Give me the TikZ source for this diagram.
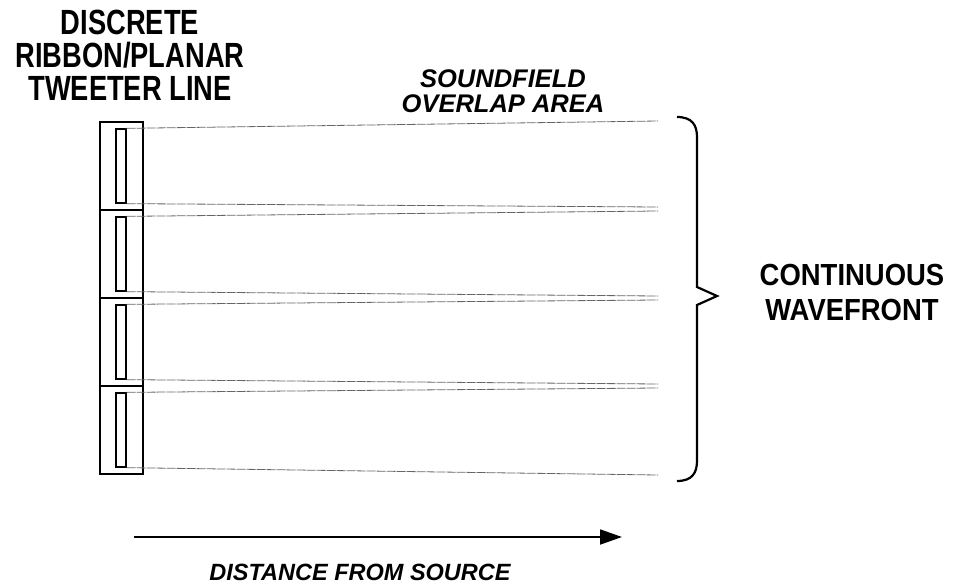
\documentclass[tikz,border=0pt]{standalone}
\usepackage{fontspec}
\setmainfont{Liberation Sans}
\newfontfamily\tweeterfont{Liberation Sans}[FakeStretch=0.78]
\newfontfamily\wavefont{Liberation Sans}[FakeStretch=0.9]
\usetikzlibrary{arrows.meta}

\begin{document}
\begin{tikzpicture}[x=1pt,y=-1pt,
    sect/.style={draw,line width=1.6pt,minimum width=43pt,minimum height=88pt,inner sep=0pt},
    ribbon/.style={draw,line width=1.3pt,minimum width=10pt,minimum height=74pt,inner sep=0pt},
    field/.style={black!60,line width=0.8pt,dash pattern=on 9pt off 1pt},
    title/.style={align=center,inner sep=0pt}]
      \useasboundingbox (0,0) rectangle (954,584) ;
      % tweeter line
      \node[sect] (S1) at (121.5,166) {} ;
      \node[sect] (S2) at (121.5,254) {} ;
      \node[sect] (S3) at (121.5,342) {} ;
      \node[sect] (S4) at (121.5,430) {} ;
      \node[ribbon] (T1) at (121,166) {} ;
      \node[ribbon] (T2) at (121,254) {} ;
      \node[ribbon] (T3) at (121,342) {} ;
      \node[ribbon] (T4) at (121,430) {} ;
      % soundfield edges
      \coordinate (E0) at (658,121) ;
      \coordinate (E1) at (658,207) ;
      \coordinate (E2) at (658,211) ;
      \coordinate (E3) at (658,296) ;
      \coordinate (E4) at (658,300) ;
      \coordinate (E5) at (658,384) ;
      \coordinate (E6) at (658,388) ;
      \coordinate (E7) at (658,475) ;
      \draw[field] (T1.north east) -- (E0) ;
      \draw[field] (T1.south east) -- (E1) ;
      \draw[field] (T2.north east) -- (E2) ;
      \draw[field] (T2.south east) -- (E3) ;
      \draw[field] (T3.north east) -- (E4) ;
      \draw[field] (T3.south east) -- (E5) ;
      \draw[field] (T4.north east) -- (E6) ;
      \draw[field] (T4.south east) -- (E7) ;
      % brace
      \draw[line width=2.2pt] (677,117) .. controls (692,117) and (697,125) .. (697,137) %
      -- (697,287) -- (717,296) -- (697,305) -- (697,461) %
      .. controls (697,473) and (692,481) .. (677,481) ;
      % distance arrow
      \coordinate (D0) at (134,537) ;
      \coordinate (D1) at (622,537) ;
      \draw[line width=1.8pt,-{Triangle[length=22pt,width=15pt]}] (D0) -- (D1) ;
      % labels
      \node[title,font=\tweeterfont\fontsize{35}{33}\selectfont\bfseries] (tweeter) %
      at (130,55) {DISCRETE\\RIBBON/PLANAR\\TWEETER LINE} ;
      \node[title,font=\fontsize{25.5}{25}\selectfont\bfseries\itshape] (overlap) %
      at (503,91) {SOUNDFIELD\\OVERLAP AREA} ;
      \node[title,font=\wavefont\fontsize{30.5}{35}\selectfont\bfseries] (wave) %
      at (852,292) {CONTINUOUS\\WAVEFRONT} ;
      \node[title,font=\fontsize{23.5}{23.5}\selectfont\bfseries\itshape] (dist) %
      at (360,572.5) {DISTANCE FROM SOURCE} ;
    \end{tikzpicture}
\end{document}
